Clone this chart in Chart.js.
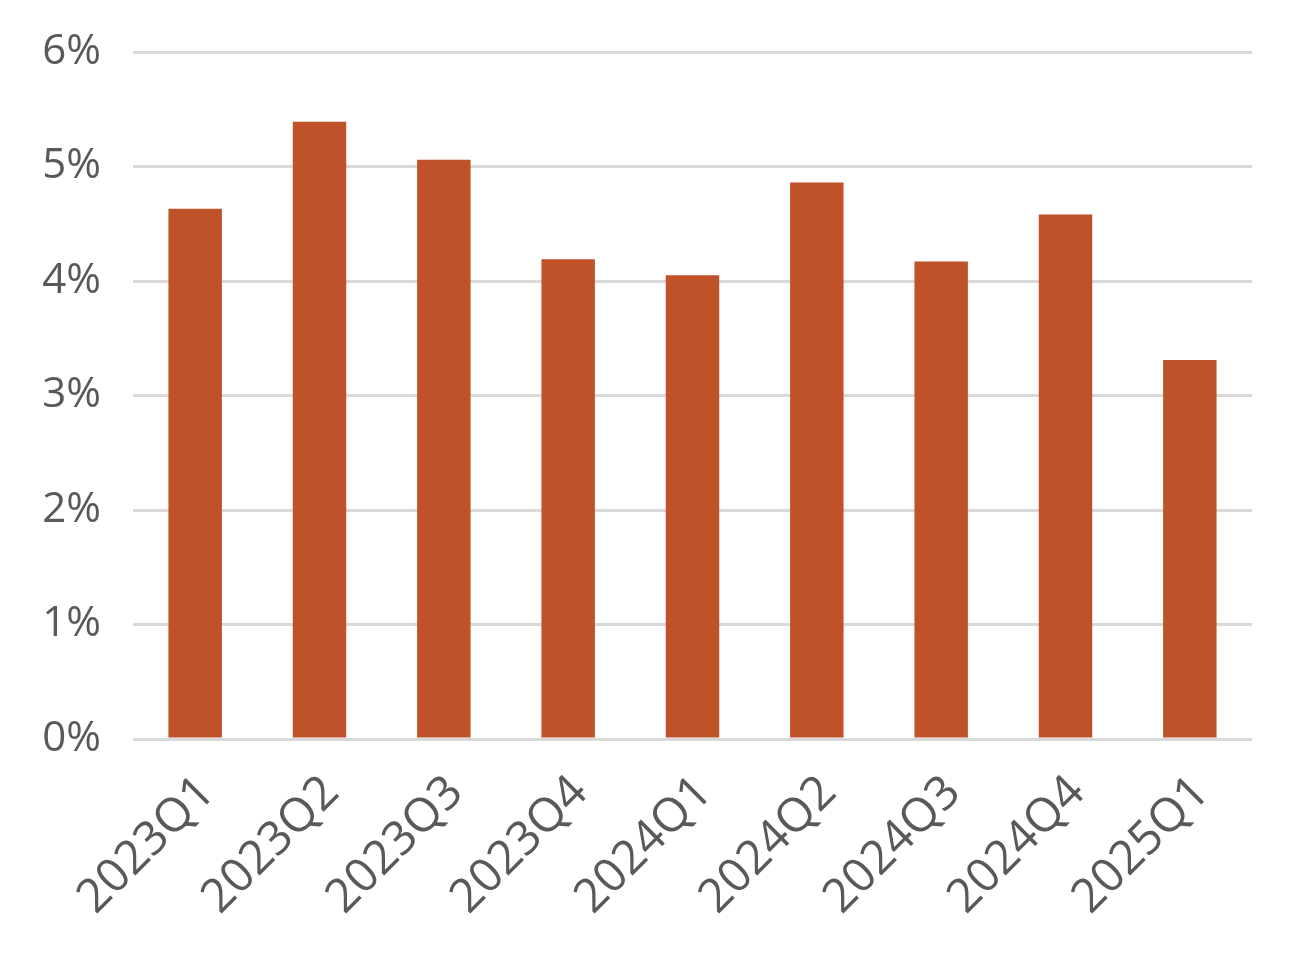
<!DOCTYPE html>
<html>
<head>
<meta charset="utf-8">
<script src="https://cdn.jsdelivr.net/npm/chart.js@4"></script>
<style>
  html, body { margin: 0; padding: 0; background: #fff; }
  #wrap { width: 1290px; height: 969px; }
</style>
</head>
<body>
<div id="wrap"><canvas id="chart" width="1290" height="969"></canvas></div>
<script>
const quarters = ['2023Q1', '2023Q2', '2023Q3', '2023Q4', '2024Q1', '2024Q2', '2024Q3', '2024Q4', '2025Q1'];
const growth = [4.63, 5.39, 5.06, 4.19, 4.05, 4.86, 4.17, 4.58, 3.31];
const yTicks = [0, 1, 2, 3, 4, 5, 6];

const textColor = '#595959';
const fontFamily = '"Open Sans", "Liberation Sans", sans-serif';

const ctx = document.getElementById('chart').getContext('2d');

new Chart(ctx, {
    type: 'bar',
    data: {
        labels: quarters,
        datasets: [{
            data: growth,
            backgroundColor: '#C0522A',
            borderWidth: 0,
            categoryPercentage: 1,
            barPercentage: 0.43
        }]
    },
    options: {
        responsive: false,
        animation: false,
        layout: { padding: { top: 52, right: 38, left: 0, bottom: 0 } },
        plugins: {
            legend: { display: false },
            tooltip: { enabled: false }
        },
        scales: {
            x: {
                grid: { display: false },
                border: { display: false },
                ticks: {
                    color: textColor,
                    font: { family: fontFamily, size: 47 },
                    minRotation: 45,
                    maxRotation: 45,
                    padding: 18,
                    labelOffset: 12
                },
                afterFit: scale => { scale.height = 230; }
            },
            y: {
                min: 0,
                max: 6,
                afterBuildTicks: scale => { scale.ticks = yTicks.map(v => ({ value: v })); },
                grid: { color: '#d9d9d9', lineWidth: 3, drawTicks: false },
                border: { display: false },
                ticks: {
                    color: textColor,
                    font: { family: fontFamily, size: 42 },
                    padding: 32,
                    callback: v => v + '%'
                },
                afterFit: scale => {
                    // fixed axis width, and no extra top/bottom space for the labels
                    scale.width = 133;
                    scale.paddingTop = 0;
                    scale.paddingBottom = 0;
                }
            }
        }
    }
});
</script>
</body>
</html>
